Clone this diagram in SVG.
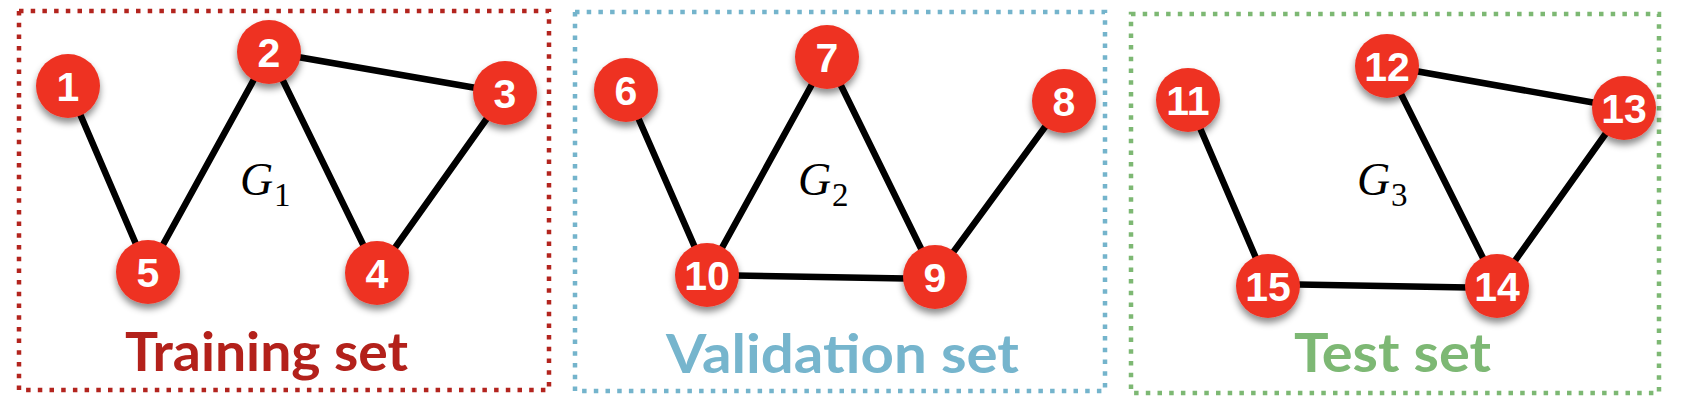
<svg xmlns="http://www.w3.org/2000/svg" width="1682" height="402" viewBox="0 0 1682 402">
<defs>
<filter id="sh" x="-50%" y="-50%" width="200%" height="200%">
<feDropShadow dx="0" dy="5" stdDeviation="3.5" flood-color="#000" flood-opacity="0.45"/>
</filter>
<style>
.box{fill:none;stroke-width:4.5;stroke-dasharray:4.5 7.2}
.edge{stroke:#000;stroke-width:6.5;stroke-linecap:round}
.nc{fill:#EE3224;filter:url(#sh)}
.nt{fill:#fff;font-family:"Liberation Sans",Arial,sans-serif;font-weight:bold;font-size:41px;text-anchor:middle}
.g{font-family:"Liberation Serif","DejaVu Serif",serif;font-style:italic;font-size:46px;fill:#000}
.sub{font-family:"Liberation Serif","DejaVu Serif",serif;font-size:33px;fill:#000}
.lbl{font-family:Lato,"Open Sans",sans-serif;font-weight:bold;font-size:53px}
</style>
</defs>
<rect width="1682" height="402" fill="#fff"/>
<g id="boxes">
<rect id="box-train" class="box" x="19" y="11" width="530" height="379" stroke="#B3241E"/>
<rect id="box-val" class="box" x="575" y="12" width="530" height="379" stroke="#74B4CC"/>
<rect id="box-test" class="box" x="1131" y="14" width="528" height="379" stroke="#7DB873"/>
</g>
<g id="connectors">
<line class="edge" x1="68" y1="86" x2="148" y2="272"/>
<line class="edge" x1="148" y1="272" x2="269" y2="52"/>
<line class="edge" x1="269" y1="52" x2="505" y2="93"/>
<line class="edge" x1="269" y1="52" x2="377" y2="273"/>
<line class="edge" x1="505" y1="93" x2="377" y2="273"/>
<line class="edge" x1="626" y1="90" x2="707" y2="275"/>
<line class="edge" x1="707" y1="275" x2="827" y2="57"/>
<line class="edge" x1="827" y1="57" x2="935" y2="277"/>
<line class="edge" x1="707" y1="275" x2="935" y2="279"/>
<line class="edge" x1="935" y1="277" x2="1064" y2="101"/>
<line class="edge" x1="1188" y1="100" x2="1268" y2="286"/>
<line class="edge" x1="1268" y1="284" x2="1497" y2="288"/>
<line class="edge" x1="1387" y1="66" x2="1497" y2="286"/>
<line class="edge" x1="1387" y1="66" x2="1624" y2="108"/>
<line class="edge" x1="1624" y1="108" x2="1497" y2="286"/>
</g>
<g id="n1"><circle class="nc" cx="68" cy="86" r="32"/><text class="nt" x="68" y="101">1</text></g>
<g id="n2"><circle class="nc" cx="269" cy="52" r="32"/><text class="nt" x="269" y="67">2</text></g>
<g id="n3"><circle class="nc" cx="505" cy="93" r="32"/><text class="nt" x="505" y="108">3</text></g>
<g id="n4"><circle class="nc" cx="377" cy="273" r="32"/><text class="nt" x="377" y="288">4</text></g>
<g id="n5"><circle class="nc" cx="148" cy="272" r="32"/><text class="nt" x="148" y="287">5</text></g>
<g id="n6"><circle class="nc" cx="626" cy="90" r="32"/><text class="nt" x="626" y="105">6</text></g>
<g id="n7"><circle class="nc" cx="827" cy="57" r="32"/><text class="nt" x="827" y="72">7</text></g>
<g id="n8"><circle class="nc" cx="1064" cy="101" r="32"/><text class="nt" x="1064" y="116">8</text></g>
<g id="n9"><circle class="nc" cx="935" cy="277" r="32"/><text class="nt" x="935" y="292">9</text></g>
<g id="n10"><circle class="nc" cx="707" cy="275" r="32"/><text class="nt" x="707" y="290">10</text></g>
<g id="n11"><circle class="nc" cx="1188" cy="100" r="32"/><text class="nt" x="1188" y="115">11</text></g>
<g id="n12"><circle class="nc" cx="1387" cy="66" r="32"/><text class="nt" x="1387" y="81">12</text></g>
<g id="n13"><circle class="nc" cx="1624" cy="108" r="32"/><text class="nt" x="1624" y="123">13</text></g>
<g id="n14"><circle class="nc" cx="1497" cy="286" r="32"/><text class="nt" x="1497" y="301">14</text></g>
<g id="n15"><circle class="nc" cx="1268" cy="286" r="32"/><text class="nt" x="1268" y="301">15</text></g>
<g id="graph-labels">
<text class="g" x="240" y="195">G</text><text class="sub" x="274" y="206">1</text>
<text class="g" x="798" y="195">G</text><text class="sub" x="832" y="206">2</text>
<text class="g" x="1357" y="195">G</text><text class="sub" x="1391" y="206">3</text>
</g>
<g id="set-labels">
<text class="lbl" x="125" y="371" fill="#B3211B" textLength="283" lengthAdjust="spacingAndGlyphs">Training set</text>
<text class="lbl" x="666" y="373" fill="#76B5CD" textLength="353" lengthAdjust="spacingAndGlyphs">Validation set</text>
<text class="lbl" x="1294" y="372" fill="#7DB874" textLength="197" lengthAdjust="spacingAndGlyphs">Test set</text>
</g>
</svg>
